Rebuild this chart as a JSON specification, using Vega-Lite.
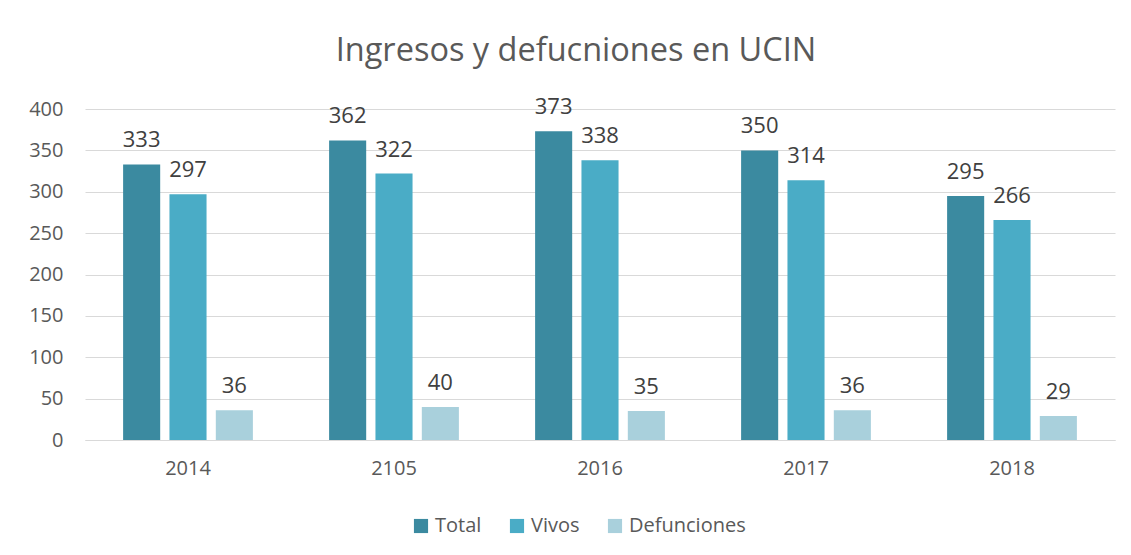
{
  "$schema": "https://vega.github.io/schema/vega-lite/v6.json",
  "width": 1030,
  "height": 331,
  "autosize": "none",
  "padding": {"left": 85, "top": 109, "right": 16, "bottom": 115},
  "background": "white",
  "title": {"text": "Ingresos y defucniones en UCIN", "fontSize": 32.5, "font": "Open Sans", "fontWeight": "normal", "color": "#595959", "offset": 29, "dx": -24},
  "data": {"values": [
    {"year": "2014", "series": "Total", "value": 333},
    {"year": "2014", "series": "Vivos", "value": 297},
    {"year": "2014", "series": "Defunciones", "value": 36},
    {"year": "2105", "series": "Total", "value": 362},
    {"year": "2105", "series": "Vivos", "value": 322},
    {"year": "2105", "series": "Defunciones", "value": 40},
    {"year": "2016", "series": "Total", "value": 373},
    {"year": "2016", "series": "Vivos", "value": 338},
    {"year": "2016", "series": "Defunciones", "value": 35},
    {"year": "2017", "series": "Total", "value": 350},
    {"year": "2017", "series": "Vivos", "value": 314},
    {"year": "2017", "series": "Defunciones", "value": 36},
    {"year": "2018", "series": "Total", "value": 295},
    {"year": "2018", "series": "Vivos", "value": 266},
    {"year": "2018", "series": "Defunciones", "value": 29}
  ]},
  "encoding": {
    "x": {"field": "year", "type": "nominal", "sort": null, "title": null,
      "scale": {"paddingInner": 0.37, "paddingOuter": 0.185},
      "axis": {"labelAngle": 0, "ticks": false, "domain": true, "domainColor": "#d9d9d9", "labelFontSize": 20, "labelColor": "#595959", "labelFont": "Open Sans", "labelPadding": 18}},
    "xOffset": {"field": "series", "type": "nominal", "sort": ["Total", "Vivos", "Defunciones"], "scale": {"paddingInner": 0.2}},
    "y": {"field": "value", "type": "quantitative", "title": null,
      "scale": {"domain": [0, 400]},
      "axis": {"values": [0, 50, 100, 150, 200, 250, 300, 350, 400], "domain": false, "ticks": false, "gridColor": "#d9d9d9", "labelFontSize": 20, "labelColor": "#595959", "labelFont": "Open Sans", "labelPadding": 22}}
  },
  "layer": [
    {"mark": {"type": "bar"},
     "encoding": {"color": {"field": "series", "type": "nominal", "sort": ["Total", "Vivos", "Defunciones"],
       "scale": {"domain": ["Total", "Vivos", "Defunciones"], "range": ["#3B8AA0", "#4AACC6", "#A9D0DC"]},
       "legend": {"orient": "none", "legendX": 326, "legendY": 407, "direction": "horizontal", "title": null, "symbolType": "square", "symbolSize": 200, "symbolStrokeWidth": 0, "labelFontSize": 20, "labelColor": "#595959", "labelFont": "Open Sans", "columnPadding": 25}}}},
    {"mark": {"type": "text", "baseline": "bottom", "dy": -12, "fontSize": 22, "font": "Open Sans", "color": "#404040"},
     "encoding": {"text": {"field": "value", "type": "quantitative"}}}
  ],
  "config": {"view": {"stroke": null}}
}
